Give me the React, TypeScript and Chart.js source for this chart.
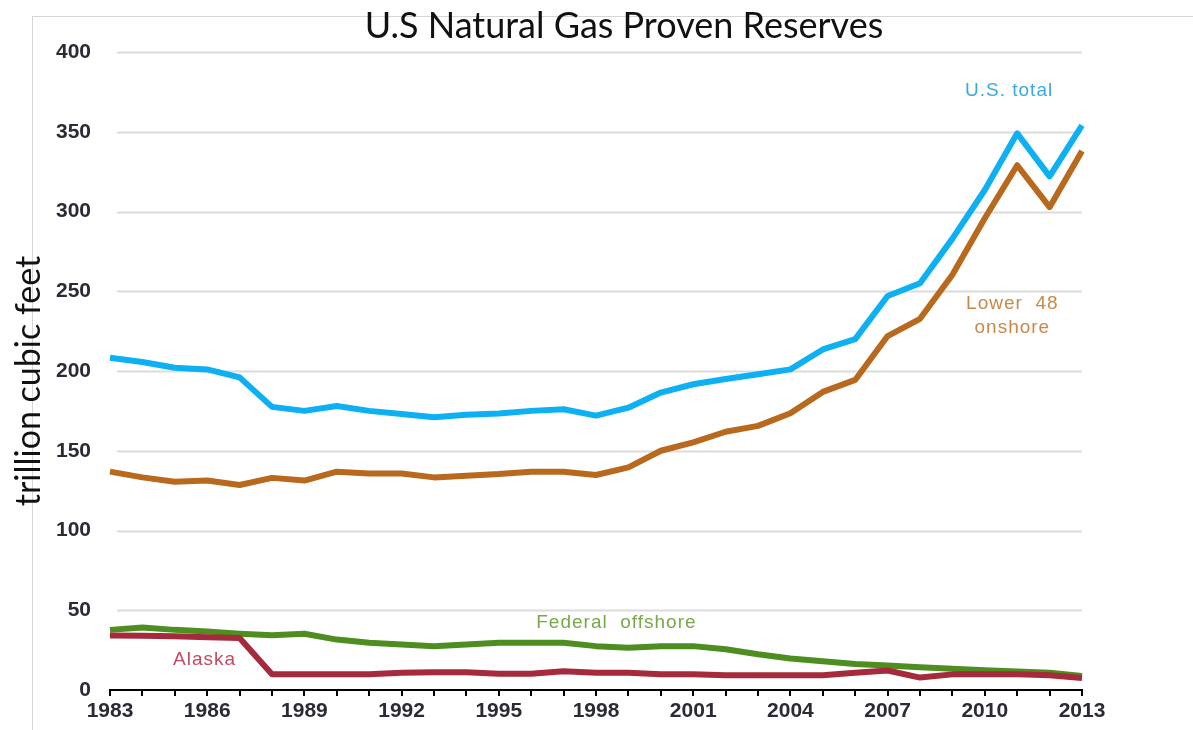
import React, { useEffect, useRef } from 'react';
import { Chart, registerables } from 'chart.js';

Chart.register(...registerables);

const years = [
  '1983', '1984', '1985', '1986', '1987', '1988', '1989', '1990', '1991', '1992',
  '1993', '1994', '1995', '1996', '1997', '1998', '1999', '2000', '2001', '2002',
  '2003', '2004', '2005', '2006', '2007', '2008', '2009', '2010', '2011', '2012', '2013',
];

const usTotal = [
  208.3, 205.6, 202, 201, 196, 177.5, 175, 178, 175, 173,
  171, 172.5, 173.3, 175, 176, 172, 177, 186.5, 191.7, 195,
  198, 201, 213.5, 220, 247, 255, 283, 313.5, 349, 322, 354,
];

const lower48Onshore = [
  136.9, 133.3, 130.6, 131.3, 128.5, 133, 131.3, 136.9, 135.8, 135.8,
  133.3, 134.4, 135.4, 136.9, 136.9, 134.8, 139.6, 150, 155.2, 161.9,
  165.6, 173.5, 186.9, 194.4, 221.9, 232.7, 260.4, 295.8, 329, 302.7, 338,
];

const federalOffshore = [
  37.7, 39.2, 37.7, 36.7, 35.3, 34.3, 35.3, 31.6, 29.6, 28.6,
  27.5, 28.6, 29.6, 29.6, 29.6, 27.5, 26.5, 27.5, 27.5, 25.5,
  22.4, 19.8, 18, 16.3, 15.3, 14.3, 13.3, 12.4, 11.6, 10.8, 8.8,
];

const alaska = [
  34.1, 34, 33.7, 33, 32.6, 9.8, 9.8, 9.8, 9.8, 10.8,
  11.2, 11.2, 10.2, 10.2, 11.8, 10.8, 10.8, 9.8, 9.8, 9.2,
  9.2, 9.2, 9.2, 10.8, 12.2, 7.8, 9.8, 9.8, 9.8, 9.2, 7.5,
];

const yTickValues = [0, 50, 100, 150, 200, 250, 300, 350, 400];

const titleText = 'U.S Natural Gas Proven Reserves';
const yAxisLabel = 'trillion cubic feet';

// Series labels placed in data space: [year offset from 1983, value]
const seriesLabels = [
  { lines: ['U.S. total'], at: [27.75, 375.5], color: '#3AA8E2' },
  { lines: ['Lower  48', 'onshore'], at: [27.85, 242], color: '#C88A48' },
  { lines: ['Federal  offshore'], at: [15.63, 42], color: '#78A848' },
  { lines: ['Alaska'], at: [2.92, 18.8], color: '#C24A62' },
];

const decorPlugin = {
  id: 'decor',
  beforeDraw(chart: any) {
    const { ctx, width, height } = chart;
    ctx.save();
    ctx.fillStyle = '#ffffff';
    ctx.fillRect(0, 0, width, height);
    ctx.strokeStyle = '#d6d6d6';
    ctx.lineWidth = 1;
    ctx.beginPath();
    ctx.moveTo(32.5, 16);
    ctx.lineTo(32.5, height);
    ctx.moveTo(32, 16.5);
    ctx.lineTo(width, 16.5);
    ctx.stroke();
    ctx.restore();
  },
  beforeDatasetsDraw(chart: any) {
    const { ctx, chartArea } = chart;
    const y = chart.scales.y;
    ctx.save();
    ctx.strokeStyle = '#dcdcdc';
    ctx.lineWidth = 2;
    ctx.beginPath();
    yTickValues.forEach((v) => {
      if (v === 0) return;
      const py = Math.round(y.getPixelForValue(v)) + 0.5;
      ctx.moveTo(chartArea.left + 7, py);
      ctx.lineTo(chartArea.right, py);
    });
    ctx.stroke();
    ctx.restore();
  },
  afterDraw(chart: any) {
    const { ctx } = chart;
    const xs = chart.scales.x;
    const ys = chart.scales.y;
    ctx.save();
    // title
    ctx.fillStyle = '#111111';
    ctx.font = '36px Lato';
    ctx.textAlign = 'center';
    ctx.textBaseline = 'alphabetic';
    ctx.fillText(titleText, 624, 38);
    // y axis label
    ctx.save();
    ctx.translate(40, 381);
    ctx.rotate(-Math.PI / 2);
    ctx.font = '34px Lato';
    ctx.textAlign = 'center';
    ctx.textBaseline = 'alphabetic';
    ctx.fillText(yAxisLabel, 0, 0);
    ctx.restore();
    // series labels
    ctx.font = '19px "Liberation Sans", Arial, sans-serif';
    (ctx as any).letterSpacing = '1px';
    ctx.textAlign = 'center';
    ctx.textBaseline = 'middle';
    seriesLabels.forEach((s) => {
      const px = xs.getPixelForValue(s.at[0]);
      const py = ys.getPixelForValue(s.at[1]);
      ctx.fillStyle = s.color;
      s.lines.forEach((line, i) => {
        ctx.fillText(line, px, py + i * 24);
      });
    });
    (ctx as any).letterSpacing = '0px';
    ctx.restore();
  },
};

export default function App() {
  const canvasRef = useRef<HTMLCanvasElement | null>(null);

  useEffect(() => {
    const canvas = canvasRef.current;
    if (!canvas) return;
    const chart = new Chart(canvas, {
      type: 'line',
      data: {
        labels: years,
        datasets: [
          { label: 'Alaska', data: alaska, borderColor: '#A52A3B', order: 1 },
          { label: 'Federal offshore', data: federalOffshore, borderColor: '#4E8E20', order: 2 },
          { label: 'Lower 48 onshore', data: lower48Onshore, borderColor: '#B8691D', order: 3 },
          { label: 'U.S. total', data: usTotal, borderColor: '#0DB0F2', order: 4 },
        ].map((d) => ({
          ...d,
          borderWidth: 6,
          pointRadius: 0,
          tension: 0,
          fill: false,
          borderJoinStyle: 'round' as const,
          borderCapStyle: 'butt' as const,
        })),
      },
      options: {
        animation: false,
        responsive: false,
        maintainAspectRatio: false,
        events: [],
        layout: { padding: { left: 0, right: 111, top: 52, bottom: 0 } },
        plugins: {
          legend: { display: false },
          title: { display: false },
          tooltip: { enabled: false },
        },
        scales: {
          x: {
            type: 'category',
            offset: false,
            afterFit(scale: any) {
              scale.height = 40;
            },
            border: { display: true, color: '#000000', width: 2 },
            grid: {
              display: true,
              drawOnChartArea: false,
              drawTicks: true,
              tickLength: 6,
              color: '#000000',
              lineWidth: 2,
            },
            ticks: {
              autoSkip: false,
              maxRotation: 0,
              minRotation: 0,
              padding: 3,
              color: '#2b2b36',
              font: { family: '"Liberation Sans", Arial, sans-serif', size: 21, weight: 'bold' },
              callback: (_v: any, i: number) => (i % 3 === 0 ? years[i] : ''),
            },
          },
          y: {
            type: 'linear',
            min: 0,
            max: 400,
            afterFit(scale: any) {
              scale.width = 110;
            },
            afterBuildTicks(scale: any) {
              scale.ticks = yTickValues.map((v) => ({ value: v }));
            },
            border: { display: false },
            grid: { display: false, drawTicks: false },
            ticks: {
              padding: 19,
              color: '#2b2b36',
              font: { family: '"Liberation Sans", Arial, sans-serif', size: 21, weight: 'bold' },
            },
          },
        },
      },
      plugins: [decorPlugin],
    });
    return () => chart.destroy();
  }, []);

  return (
    <div style={{ position: 'absolute', left: 0, top: 0, width: 1193, height: 730, background: '#fff' }}>
      <canvas ref={canvasRef} width={1193} height={730} style={{ width: 1193, height: 730, display: 'block' }} />
    </div>
  );
}
